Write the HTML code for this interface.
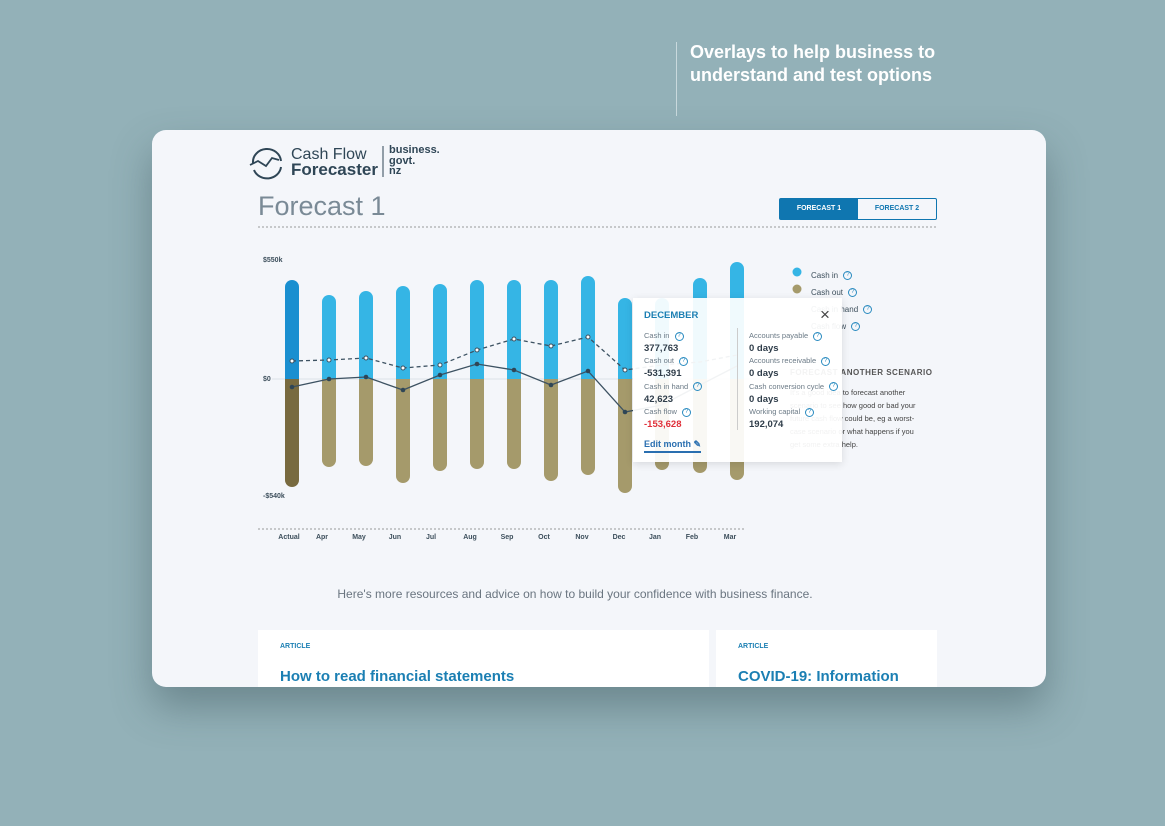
<!DOCTYPE html>
<html><head><meta charset="utf-8"><style>
*{margin:0;padding:0;box-sizing:border-box}
body{width:1165px;height:826px;background:#93b1b8;position:relative;overflow:hidden;font-family:"Liberation Sans",sans-serif}
.a{position:absolute}
.card{left:152px;top:130px;width:894px;height:557px;background:#f4f6fa;border-radius:14px;box-shadow:0 20px 40px rgba(60,85,90,.45);overflow:hidden}
.head{left:690px;top:41px;color:#fff;font-weight:bold;font-size:18px;line-height:23px}
.vline{left:676px;top:42px;width:1px;height:74px;background:#c9d9dd}
.tt{font-size:7.5px;color:#6b7a86}
.tv{font-size:9.5px;font-weight:bold;color:#2f3d4a}
.q{display:inline-block;width:9px;height:9px;border:1px solid #2a8bc0;border-radius:50%;font-size:6px;line-height:7px;text-align:center;color:#2a8bc0;vertical-align:middle;margin-left:3px}
</style></head><body>
<div class="a vline"></div>
<div class="a head">Overlays to help business to<br>understand and test options</div>
<div class="a card"></div>
<svg class="a" style="left:0;top:0" width="1165" height="826">
 <g fill="none" stroke="#2f4656" stroke-width="2">
  <path d="M253,163 a14,13 0 0 1 28,-2"/><path d="M281,167 a14,13 0 0 1 -27,3"/>
  <path d="M250,165 l8,-4 8,5 6,-8 7,2" stroke-width="1.8"/>
 </g>
 <line x1="383" y1="146" x2="383" y2="177" stroke="#2f4656"/>
 <line x1="258" y1="227" x2="937" y2="227" stroke="#999" stroke-dasharray="2,2"/>
 <line x1="258" y1="529" x2="745" y2="529" stroke="#999" stroke-dasharray="2,2"/>
 <line x1="272" y1="379" x2="760" y2="379" stroke="#dde2e8"/>
 <g stroke-width="14">
  <g stroke-linecap="round">
  <line x1="292" y1="287" x2="292" y2="370" stroke="#1a8fd0"/>
  <line x1="292" y1="388" x2="292" y2="480" stroke="#786a3f"/>
  <g stroke="#35b5e5">
   <line x1="329" y1="302" x2="329" y2="370"/><line x1="366" y1="298" x2="366" y2="370"/><line x1="403" y1="293" x2="403" y2="370"/><line x1="440" y1="291" x2="440" y2="370"/><line x1="477" y1="287" x2="477" y2="370"/><line x1="514" y1="287" x2="514" y2="370"/><line x1="551" y1="287" x2="551" y2="370"/><line x1="588" y1="283" x2="588" y2="370"/><line x1="625" y1="305" x2="625" y2="370"/><line x1="662" y1="305" x2="662" y2="370"/><line x1="700" y1="285" x2="700" y2="370"/><line x1="737" y1="269" x2="737" y2="370"/>
  </g>
  <g stroke="#a59a6b">
   <line x1="329" y1="388" x2="329" y2="460"/><line x1="366" y1="388" x2="366" y2="459"/><line x1="403" y1="388" x2="403" y2="476"/><line x1="440" y1="388" x2="440" y2="464"/><line x1="477" y1="388" x2="477" y2="462"/><line x1="514" y1="388" x2="514" y2="462"/><line x1="551" y1="388" x2="551" y2="474"/><line x1="588" y1="388" x2="588" y2="468"/><line x1="625" y1="388" x2="625" y2="486"/><line x1="662" y1="388" x2="662" y2="463"/><line x1="700" y1="388" x2="700" y2="466"/><line x1="737" y1="388" x2="737" y2="473"/>
  </g></g>
  <line x1="292" y1="365" x2="292" y2="379" stroke="#1a8fd0"/>
  <line x1="292" y1="379" x2="292" y2="392" stroke="#786a3f"/>
  <g stroke="#35b5e5"><line x1="329" y1="365" x2="329" y2="379"/><line x1="366" y1="365" x2="366" y2="379"/><line x1="403" y1="365" x2="403" y2="379"/><line x1="440" y1="365" x2="440" y2="379"/><line x1="477" y1="365" x2="477" y2="379"/><line x1="514" y1="365" x2="514" y2="379"/><line x1="551" y1="365" x2="551" y2="379"/><line x1="588" y1="365" x2="588" y2="379"/><line x1="625" y1="365" x2="625" y2="379"/><line x1="662" y1="365" x2="662" y2="379"/><line x1="700" y1="365" x2="700" y2="379"/><line x1="737" y1="365" x2="737" y2="379"/></g>
  <g stroke="#a59a6b"><line x1="329" y1="379" x2="329" y2="392"/><line x1="366" y1="379" x2="366" y2="392"/><line x1="403" y1="379" x2="403" y2="392"/><line x1="440" y1="379" x2="440" y2="392"/><line x1="477" y1="379" x2="477" y2="392"/><line x1="514" y1="379" x2="514" y2="392"/><line x1="551" y1="379" x2="551" y2="392"/><line x1="588" y1="379" x2="588" y2="392"/><line x1="625" y1="379" x2="625" y2="392"/><line x1="662" y1="379" x2="662" y2="392"/><line x1="700" y1="379" x2="700" y2="392"/><line x1="737" y1="379" x2="737" y2="392"/></g>
 </g>
 <polyline points="292,361 329,360 366,358 403,368 440,365 477,350 514,339 551,346 588,337 625,370 662,365 700,362 737,355" fill="none" stroke="#3d5262" stroke-width="1.3" stroke-dasharray="4,3"/>
 <polyline points="292,387 329,379 366,377 403,390 440,375 477,364 514,370 551,385 588,371 625,412 662,405 700,385 737,366" fill="none" stroke="#3d5262" stroke-width="1.3"/>
 <g fill="#fff" stroke="#3d5262" stroke-width="1"><circle cx="292" cy="361" r="2"/><circle cx="329" cy="360" r="2"/><circle cx="366" cy="358" r="2"/><circle cx="403" cy="368" r="2"/><circle cx="440" cy="365" r="2"/><circle cx="477" cy="350" r="2"/><circle cx="514" cy="339" r="2"/><circle cx="551" cy="346" r="2"/><circle cx="588" cy="337" r="2"/><circle cx="625" cy="370" r="2"/></g>
 <g fill="#2f4656"><circle cx="292" cy="387" r="2.3"/><circle cx="329" cy="379" r="2.3"/><circle cx="366" cy="377" r="2.3"/><circle cx="403" cy="390" r="2.3"/><circle cx="440" cy="375" r="2.3"/><circle cx="477" cy="364" r="2.3"/><circle cx="514" cy="370" r="2.3"/><circle cx="551" cy="385" r="2.3"/><circle cx="588" cy="371" r="2.3"/><circle cx="625" cy="412" r="2.3"/></g>
 <circle cx="797" cy="272" r="4.5" fill="#35b5e5"/><circle cx="797" cy="289" r="4.5" fill="#a59a6b"/>
 <g font-family="Liberation Sans" font-size="7" font-weight="bold" fill="#3d4f5c" text-anchor="middle">
  <text x="289" y="539">Actual</text><text x="322" y="539">Apr</text><text x="359" y="539">May</text><text x="395" y="539">Jun</text><text x="431" y="539">Jul</text><text x="470" y="539">Aug</text><text x="507" y="539">Sep</text><text x="544" y="539">Oct</text><text x="582" y="539">Nov</text><text x="619" y="539">Dec</text><text x="655" y="539">Jan</text><text x="692" y="539">Feb</text><text x="730" y="539">Mar</text>
 </g>
 <g font-family="Liberation Sans" font-size="7" font-weight="bold" fill="#3d4f5c">
  <text x="263" y="262">$550k</text><text x="263" y="381">$0</text><text x="263" y="498">-$540k</text>
 </g>
</svg>
<div class="a" style="left:291px;top:147px;font-size:16px;color:#2f4656;line-height:15px">Cash Flow<br><b style="font-size:17px">Forecaster</b></div>
<div class="a" style="left:389px;top:145px;font-size:11px;font-weight:bold;color:#2f4656;line-height:10.5px">business.<br>govt.<br>nz</div>
<div class="a" style="left:258px;top:191px;font-size:27px;color:#7a8a96">Forecast 1</div>
<div class="a" style="left:779px;top:198px;width:158px;height:22px;border:1px solid #0f76b0;border-radius:2px;display:flex;font-size:7px;font-weight:bold">
 <div style="width:78px;background:#0f76b0;color:#fff;text-align:center;line-height:20px">FORECAST 1</div>
 <div style="flex:1;color:#0f76b0;text-align:center;line-height:20px">FORECAST 2</div></div>
<div class="a" style="left:811px;top:267px;font-size:8px;color:#3d4f5c;line-height:17px">Cash in <span class="q">?</span><br>Cash out <span class="q">?</span><br>Cash in hand <span class="q">?</span><br>Cash flow <span class="q">?</span></div>
<div class="a" style="left:790px;top:368px;font-size:8px;color:#555;font-weight:bold;letter-spacing:.5px">FORECAST ANOTHER SCENARIO</div>
<div class="a" style="left:790px;top:386px;width:130px;font-size:7.5px;color:#444;line-height:13px">It's a good idea to forecast another scenario to see how good or bad your future cash flow could be, eg a worst-case scenario or what happens if you get some extra help.</div>
<div class="a" style="left:633px;top:298px;width:209px;height:164px;background:rgba(255,255,255,.93);box-shadow:0 2px 8px rgba(0,0,0,.12)">
 <div class="a" style="left:11px;top:12px;font-size:9.5px;font-weight:bold;color:#1b7fb3">DECEMBER</div>
 <div class="a" style="left:187px;top:7px;font-size:17px;color:#444">×</div>
 <div class="a" style="left:104px;top:30px;width:1px;height:102px;background:#ccc"></div>
 <div class="a" style="left:11px;top:32px;line-height:12.7px"><div class="tt">Cash in <span class="q">?</span></div><div class="tv">377,763</div><div class="tt">Cash out <span class="q">?</span></div><div class="tv">-531,391</div><div class="tt">Cash in hand <span class="q">?</span></div><div class="tv">42,623</div><div class="tt">Cash flow <span class="q">?</span></div><div class="tv" style="color:#e0303a">-153,628</div></div>
 <div class="a" style="left:116px;top:32px;line-height:12.7px"><div class="tt">Accounts payable <span class="q">?</span></div><div class="tv">0 days</div><div class="tt">Accounts receivable <span class="q">?</span></div><div class="tv">0 days</div><div class="tt">Cash conversion cycle <span class="q">?</span></div><div class="tv">0 days</div><div class="tt">Working capital <span class="q">?</span></div><div class="tv">192,074</div></div>
 <div class="a" style="left:11px;top:141px;font-size:9px;font-weight:bold;color:#2a6fb0;border-bottom:2px solid #2a6fb0;padding-bottom:1px">Edit month ✎</div>
</div>
<div class="a" style="left:0;width:1150px;top:587px;text-align:center;font-size:12px;color:#6a7580">Here's more resources and advice on how to build your confidence with business finance.</div>
<div class="a" style="left:258px;top:630px;width:451px;height:57px;background:#fff"><div class="a" style="left:22px;top:13px;font-size:7px;font-weight:bold;color:#1b7fb3">ARTICLE</div><div class="a" style="left:22px;top:38px;font-size:15px;font-weight:bold;color:#1b7fb3">How to read financial statements</div></div>
<div class="a" style="left:716px;top:630px;width:221px;height:57px;background:#fff"><div class="a" style="left:22px;top:13px;font-size:7px;font-weight:bold;color:#1b7fb3">ARTICLE</div><div class="a" style="left:22px;top:38px;font-size:15px;font-weight:bold;color:#1b7fb3">COVID-19: Information</div></div>
</body></html>
